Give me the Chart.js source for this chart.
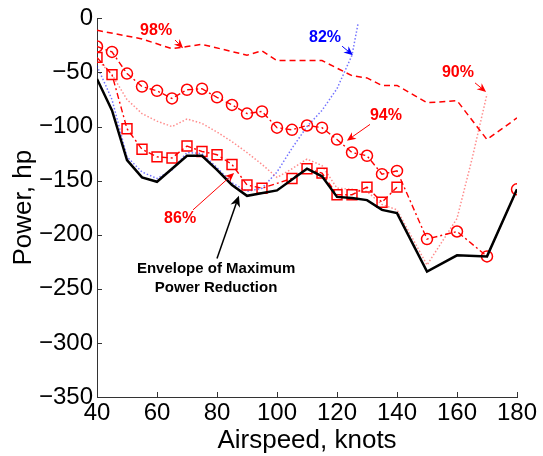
<!DOCTYPE html>
<html><head><meta charset="utf-8">
<script src="https://cdn.jsdelivr.net/npm/chart.js@4"></script>
<style>html,body{margin:0;padding:0;background:#fff}canvas{display:block}</style>
</head><body>
<canvas id="c" width="543" height="456"></canvas>
<script>
// ---- data (airspeed in knots, power in hp) ----
const xTickValues = [40, 60, 80, 100, 120, 140, 160, 180];
const yTickValues = [0, -50, -100, -150, -200, -250, -300, -350];

const envSpeed = [40,45,50,55,60,70,75,80,85,90,100,110,115,120,125,130,135,140,150,160,170,180];
const envPower = [-56,-85,-131,-147,-151,-127,-127,-140,-154,-164,-159,-139,-146,-165,-166,-168,-177,-180,-234,-219,-220,-158];

const p98Speed = [40,55,65,70,75,90,95,100,115,125,130,135,140,150,160,170,180];
const p98Power = [-11,-19,-28,-26,-24,-34,-30,-39,-39,-53,-55,-62,-62,-78,-76,-112,-92];

const p94Speed = [40,45,50,55,60,65,70,75,80,85,90,95,100,105,110,115,120,125,130,135,140,150,160,170,180];
const p94Power = [-26,-31,-51,-63,-67,-74,-66,-65,-73,-80,-88,-86,-101,-103,-99,-101,-112,-124,-127,-144,-141,-204,-197,-220,-158];

const p90Speed = [40,45,50,55,60,65,70,75,80,85,90,95,100,105,110,115,120,125,130,135,140,150,160,165,170];
const p90Power = [-38,-52,-75,-88,-95,-100,-93,-97,-105,-114,-124,-135,-147,-139,-130,-136,-157,-158,-160,-172,-177,-228,-185,-130,-70];

const p86Speed = [40,45,50,55,60,65,70,75,80,85,90,95,105,110,115,120,125,130,135,140];
const p86Power = [-36,-52,-102,-121,-128,-129,-118,-123,-126,-135,-154,-157,-148,-139,-143,-163,-163,-156,-170,-156];

const p82Speed = [40,45,50,55,60,65,70,75,80,85,90,95,100,105,110,115,120,125,127];
const p82Power = [-44,-75,-128,-142,-148,-140,-124,-125,-138,-152,-160,-157,-142,-120,-100,-85,-65,-34,-5];

function pts(xs, ys) { return xs.map((x, i) => ({ x: x, y: ys[i] })); }

// ---- annotations (data coordinates) ----
const notes = [
  { text: '98%', at: [59.7, -11], color: '#ff0000' },
  { text: '82%', at: [116, -17.4], color: '#0000ff' },
  { text: '90%', at: [160.3, -50.5], color: '#ff0000' },
  { text: '94%', at: [136.3, -90], color: '#ff0000' },
  { text: '86%', at: [67.7, -185], color: '#ff0000' },
  { text: 'Envelope of Maximum', at: [79.7, -232], color: '#000000' },
  { text: 'Power Reduction', at: [79.7, -249.5], color: '#000000' }
];
const arrows = [
  { from: [66, -20], to: [68.7, -27.5], color: '#ff0000', w: 1 },
  { from: [121.7, -25.7], to: [125.3, -34], color: '#0000ff', w: 1 },
  { from: [166, -59.6], to: [169.7, -68], color: '#ff0000', w: 1 },
  { from: [131, -98], to: [123.3, -113], color: '#ff0000', w: 1 },
  { from: [72, -177], to: [85.7, -143], color: '#ff0000', w: 1 },
  { from: [80, -222], to: [87.3, -164], color: '#000000', w: 1.5 }
];

const FONT = "'Liberation Sans', Arial, Helvetica, sans-serif";

const extras = {
  id: 'extras',
  afterDatasetsDraw(chart) {
    const ctx = chart.ctx, xs = chart.scales.x, ys = chart.scales.y;
    ctx.save();
    // inward ticks
    ctx.strokeStyle = '#333';
    ctx.lineWidth = 1;
    ctx.beginPath();
    xTickValues.forEach(v => {
      const px = Math.round(xs.getPixelForValue(v)) + 0.5;
      ctx.moveTo(px, ys.bottom); ctx.lineTo(px, ys.bottom - 5);
    });
    yTickValues.forEach(v => {
      const py = Math.round(ys.getPixelForValue(v)) + 0.5;
      ctx.moveTo(xs.left, py); ctx.lineTo(xs.left + 5, py);
    });
    ctx.stroke();
    // arrows
    arrows.forEach(a => {
      const x1 = xs.getPixelForValue(a.from[0]), y1 = ys.getPixelForValue(a.from[1]);
      const x2 = xs.getPixelForValue(a.to[0]), y2 = ys.getPixelForValue(a.to[1]);
      const ang = Math.atan2(y2 - y1, x2 - x1);
      const L = a.w > 1 ? 11 : 9, H = a.w > 1 ? 5 : 4;
      ctx.strokeStyle = a.color; ctx.fillStyle = a.color; ctx.lineWidth = a.w;
      ctx.beginPath(); ctx.moveTo(x1, y1);
      ctx.lineTo(x2 - Math.cos(ang) * L * 0.7, y2 - Math.sin(ang) * L * 0.7); ctx.stroke();
      ctx.beginPath();
      ctx.moveTo(x2, y2);
      ctx.lineTo(x2 - Math.cos(ang) * L + Math.sin(ang) * H, y2 - Math.sin(ang) * L - Math.cos(ang) * H);
      ctx.lineTo(x2 - Math.cos(ang) * L * 0.7, y2 - Math.sin(ang) * L * 0.7);
      ctx.lineTo(x2 - Math.cos(ang) * L - Math.sin(ang) * H, y2 - Math.sin(ang) * L + Math.cos(ang) * H);
      ctx.closePath(); ctx.fill();
    });
    // labels
    ctx.textAlign = 'center'; ctx.textBaseline = 'middle';
    notes.forEach(n => {
      const big = n.text.length < 5;
      ctx.font = 'bold ' + (big ? 16 : 15) + 'px ' + FONT;
      ctx.fillStyle = n.color;
      ctx.fillText(n.text, xs.getPixelForValue(n.at[0]), ys.getPixelForValue(n.at[1]));
    });
    ctx.restore();
  }
};

new Chart(document.getElementById('c'), {
  type: 'line',
  data: {
    datasets: [
      { label: 'Envelope', data: pts(envSpeed, envPower), borderColor: '#000', borderWidth: 2.5, pointRadius: 0 },
      { label: '94%', data: pts(p94Speed, p94Power), borderColor: '#ff0000', borderWidth: 1.4, borderDash: [6, 3, 2, 3],
        pointStyle: 'circle', pointRadius: 5.5, pointBorderWidth: 1.5, pointBorderColor: '#ff0000', pointBackgroundColor: 'rgba(0,0,0,0)' },
      { label: '86%', data: pts(p86Speed, p86Power), borderColor: '#ff0000', borderWidth: 1.4, borderDash: [6, 3, 2, 3],
        pointStyle: 'rect', pointRadius: 7, pointBorderWidth: 1.5, pointBorderColor: '#ff0000', pointBackgroundColor: 'rgba(0,0,0,0)' },
      { label: '98%', data: pts(p98Speed, p98Power), borderColor: '#ff0000', borderWidth: 1.5, borderDash: [6, 4], pointRadius: 0 },
      { label: '90%', data: pts(p90Speed, p90Power), borderColor: 'rgba(255,0,0,0.45)', borderWidth: 1.5, borderDash: [1.5, 2], pointRadius: 0 },
      { label: '82%', data: pts(p82Speed, p82Power), borderColor: 'rgba(0,0,255,0.55)', borderWidth: 1.5, borderDash: [1.5, 2], pointRadius: 0 }
    ]
  },
  options: {
    responsive: false,
    animation: false,
    devicePixelRatio: 1,
    layout: { padding: { top: 15, right: 26, left: 0, bottom: 0 } },
    plugins: { legend: { display: false }, tooltip: { enabled: false } },
    elements: { line: { tension: 0, fill: false } },
    scales: {
      x: {
        type: 'linear', min: 40, max: 180,
        afterBuildTicks: s => { s.ticks = xTickValues.map(v => ({ value: v })); },
        afterFit: s => { s.height = 59; },
        grid: { display: false, drawTicks: false },
        border: { display: true, color: '#333', width: 1 },
        ticks: { color: '#000', font: { family: FONT, size: 24 }, padding: 2, maxRotation: 0 },
        title: { display: true, text: 'Airspeed, knots', color: '#000', font: { family: FONT, size: 26 }, padding: { top: -6, bottom: 0 } }
      },
      y: {
        type: 'linear', min: -350, max: 0,
        afterBuildTicks: s => { s.ticks = yTickValues.map(v => ({ value: v })); },
        afterFit: s => { s.width = 97; },
        grid: { display: false, drawTicks: false },
        border: { display: true, color: '#333', width: 1 },
        ticks: { color: '#000', font: { family: FONT, size: 24 }, padding: 4,
          callback: v => (v < 0 ? '\u2212' + Math.abs(v) : String(v)) },
        title: { display: true, text: 'Power, hp', color: '#000', font: { family: FONT, size: 26 }, padding: { top: 8, bottom: 0 } }
      }
    }
  },
  plugins: [extras]
});
</script>
</body></html>
